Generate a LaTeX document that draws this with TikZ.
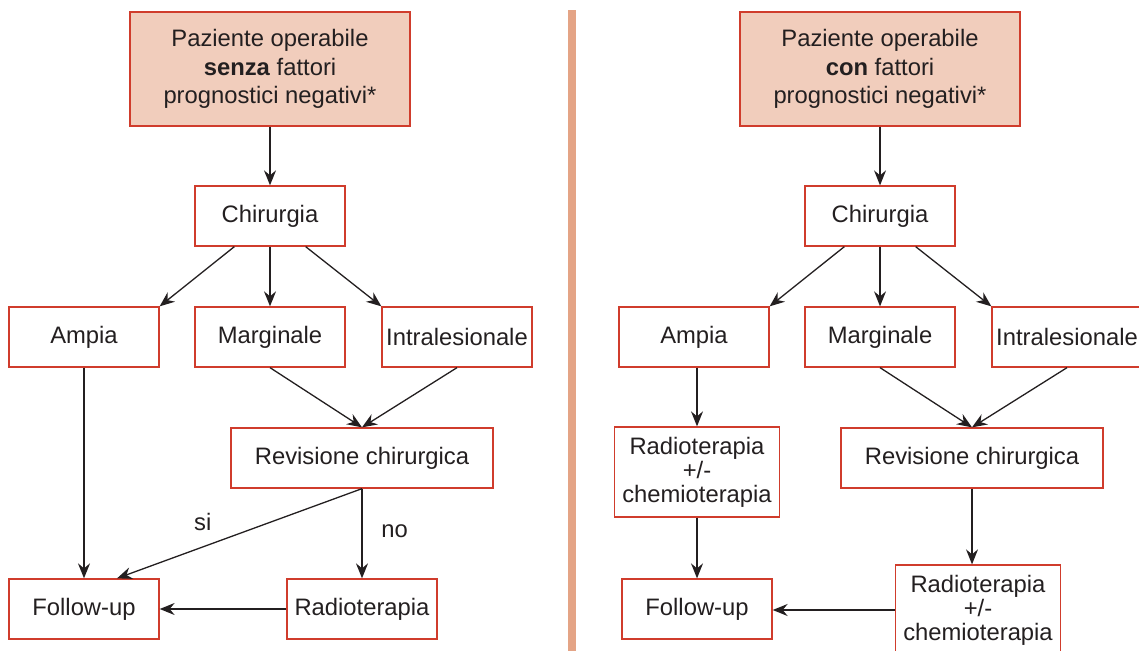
\documentclass[tikz,border=0pt]{standalone}
\usepackage{fontspec}
\setmainfont{Liberation Sans}
\usetikzlibrary{arrows.meta}
\definecolor{boxred}{HTML}{D03C2C}
\definecolor{peach}{HTML}{F1CDBC}
\definecolor{barcol}{HTML}{E4A486}
\definecolor{ink}{HTML}{231F20}

\begin{document}
\begin{tikzpicture}[x=0.5pt, y=-0.5pt, >={Stealth[length=7.5pt, width=6pt, inset=2.5pt]},
  box/.style={draw=boxred, line width=0.65pt, text=ink, minimum width=75pt, minimum height=30pt,
    inner sep=1pt, align=center, font=\fontsize{11.9}{12}\selectfont},
  startbox/.style={box, fill=peach, minimum width=140pt, minimum height=57pt,
    font=\fontsize{11.9}{14.3}\selectfont},
  widebox/.style={box, minimum width=131pt},
  therapybox/.style={box, minimum width=82.5pt, minimum height=45pt},
  arr/.style={->, line width=0.65pt, draw=ink},
  lbl/.style={text=ink, font=\fontsize{11.9}{12}\selectfont}]
  \useasboundingbox (0, 0) rectangle (1139, 651);

  % dividing bar
  \fill[barcol] (568, 10) rectangle (576, 651);

  % left: senza fattori
  \node[startbox] (startL) at (270, 69) {Paziente operabile\\\textbf{senza} fattori\\prognostici negativi*};
  \node[box] (chirL) at (270, 216) {Chirurgia};
  \node[box] (ampiaL) at (84, 337) {Ampia};
  \node[box] (margL) at (270, 337) {Marginale};
  \node[box] (intraL) at (457, 337) {Intralesionale};
  \node[widebox] (revL) at (362, 458) {Revisione chirurgica};
  \node[box] (followL) at (84, 609) {Follow-up};
  \node[box] (radioL) at (362, 609) {Radioterapia};

  \draw[arr] (startL) -- (chirL);
  \draw[arr] ([xshift=20pt]chirL.south west) -- (ampiaL.north east);
  \draw[arr] (chirL) -- (margL);
  \draw[arr] ([xshift=-20pt]chirL.south east) -- (intraL.north west);
  \draw[arr] (margL.south) -- (revL.north);
  \draw[arr] (intraL.south) -- (revL.north);
  \draw[arr] (ampiaL) -- (followL);
  \draw[arr] (revL.south) -- ([xshift=16.5pt]followL.north) node[lbl, pos=0.65, above=4.5pt] {si};
  \draw[arr] (revL) -- (radioL) node[lbl, pos=0.47, right=6pt] {no};
  \draw[arr] (radioL) -- (followL);

  % right: con fattori
  \node[startbox] (startR) at (880, 69) {Paziente operabile\\\textbf{con} fattori\\prognostici negativi*};
  \node[box] (chirR) at (880, 216) {Chirurgia};
  \node[box] (ampiaR) at (694, 337) {Ampia};
  \node[box] (margR) at (880, 337) {Marginale};
  \node[box] (intraR) at (1067, 337) {Intralesionale};
  \node[widebox] (revR) at (972, 458) {Revisione chirurgica};
  \node[therapybox] (chemoA) at (697, 472) {Radioterapia\\+/-\\chemioterapia};
  \node[box] (followR) at (697, 609) {Follow-up};
  \node[therapybox] (chemoB) at (978, 610) {Radioterapia\\+/-\\chemioterapia};

  \draw[arr] (startR) -- (chirR);
  \draw[arr] ([xshift=20pt]chirR.south west) -- (ampiaR.north east);
  \draw[arr] (chirR) -- (margR);
  \draw[arr] ([xshift=-20pt]chirR.south east) -- (intraR.north west);
  \draw[arr] (margR.south) -- (revR.north);
  \draw[arr] (intraR.south) -- (revR.north);
  \draw[arr] (ampiaR.south -| chemoA.north) -- (chemoA.north);
  \draw[arr] (chemoA) -- (followR);
  \draw[arr] (revR.south) -- (revR.south |- chemoB.north);
  \draw[arr] (chemoB.west) -- (chemoB.west -| followR.east);
\end{tikzpicture}
\end{document}
